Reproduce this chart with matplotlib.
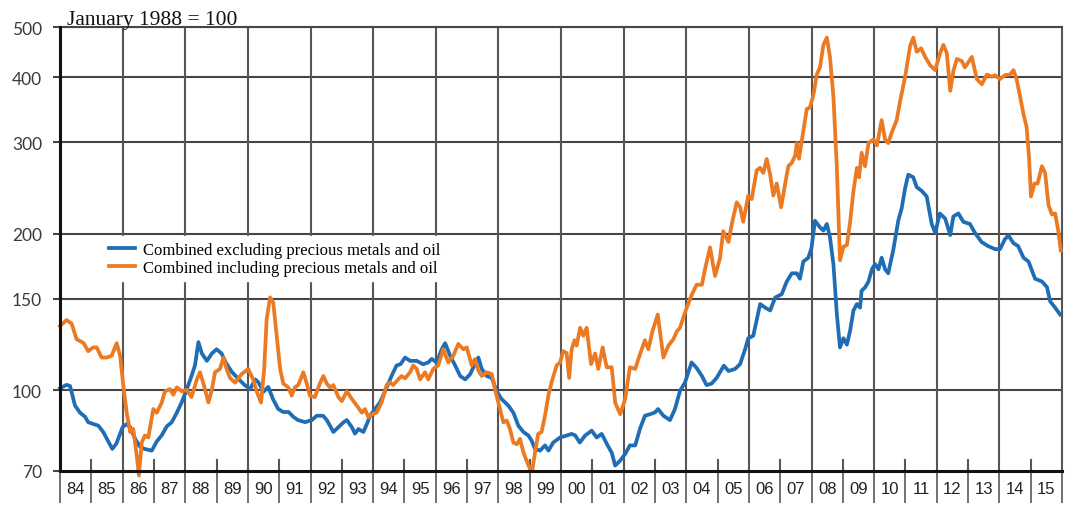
import matplotlib
matplotlib.use("Agg")
import matplotlib.pyplot as plt
import matplotlib.transforms as mtransforms

# ---------------- data ----------------
years_excl = [1984.00, 1984.21, 1984.32, 1984.48, 1984.64, 1984.80, 1984.90, 1985.06, 1985.22, 1985.38,
              1985.54, 1985.67, 1985.80, 1986.00, 1986.13, 1986.24, 1986.40, 1986.55, 1986.70, 1986.93,
              1987.09, 1987.25, 1987.41, 1987.57, 1987.73, 1987.89, 1988.05, 1988.20, 1988.31, 1988.42,
              1988.53, 1988.69, 1988.85, 1989.00, 1989.16, 1989.30, 1989.48, 1989.70, 1989.90, 1990.07,
              1990.23, 1990.33, 1990.50, 1990.65, 1990.80, 1990.97, 1991.13, 1991.30, 1991.45, 1991.60,
              1991.83, 1992.04, 1992.20, 1992.40, 1992.52, 1992.62, 1992.73, 1992.89, 1993.05, 1993.16,
              1993.32, 1993.42, 1993.53, 1993.69, 1993.80, 1993.90, 1994.06, 1994.22, 1994.38, 1994.60,
              1994.75, 1994.88, 1995.02, 1995.18, 1995.39, 1995.60, 1995.76, 1995.87, 1996.03, 1996.19,
              1996.30, 1996.46, 1996.62, 1996.78, 1996.94, 1997.10, 1997.25, 1997.36, 1997.47, 1997.63,
              1997.79, 1997.95, 1998.10, 1998.32, 1998.48, 1998.64, 1998.80, 1998.96, 1999.06, 1999.17,
              1999.33, 1999.49, 1999.60, 1999.75, 1999.97, 2000.18, 2000.34, 2000.45, 2000.60, 2000.77,
              2000.98, 2001.14, 2001.30, 2001.46, 2001.62, 2001.73, 2001.89, 2002.05, 2002.20, 2002.37,
              2002.52, 2002.68, 2002.84, 2003.00, 2003.10, 2003.27, 2003.48, 2003.64, 2003.80, 2003.96,
              2004.17, 2004.33, 2004.50, 2004.65, 2004.81, 2004.97, 2005.20, 2005.35, 2005.56, 2005.72,
              2005.88, 2005.98, 2006.14, 2006.36, 2006.52, 2006.68, 2006.84, 2007.05, 2007.21, 2007.37,
              2007.53, 2007.63, 2007.74, 2007.90, 2008.00, 2008.11, 2008.27, 2008.38, 2008.49, 2008.59,
              2008.70, 2008.81, 2008.91, 2009.02, 2009.13, 2009.23, 2009.34, 2009.45, 2009.55, 2009.60,
              2009.71, 2009.82, 2009.93, 2010.03, 2010.14, 2010.24, 2010.35, 2010.45, 2010.61, 2010.77,
              2010.88, 2010.99, 2011.09, 2011.25, 2011.36, 2011.52, 2011.68, 2011.84, 2011.95, 2012.10,
              2012.27, 2012.43, 2012.53, 2012.69, 2012.85, 2013.06, 2013.22, 2013.43, 2013.64, 2013.86,
              2014.02, 2014.18, 2014.29, 2014.45, 2014.60, 2014.77, 2014.93, 2015.14, 2015.36, 2015.52,
              2015.62, 2015.78, 2015.94]
values_excl = [101, 102.5, 102, 93.5, 90.6, 89, 86.9, 86.2, 85.6, 83.2,
               79.8, 77.2, 79, 85, 86.2, 85, 80.7, 78, 77.2, 76.6,
               79.8, 82, 85.3, 86.9, 90.6, 95, 100.6, 106.6, 111.7, 123.9,
               117.8, 114, 117.8, 120, 117.8, 113, 108.7, 105.2, 102.4, 100.6,
               105, 103.8, 99.4, 101.6, 96.3, 92.1, 90.9, 90.9, 89, 87.7,
               86.9, 87.7, 89.4, 89.4, 87.7, 85.6, 83.2, 85, 86.8, 87.7,
               85, 82.6, 84.3, 83.2, 86.2, 89.4, 92.1, 94.8, 99.6, 107,
               111.7, 112.4, 115.7, 114, 114, 112.3, 113.2, 115, 113.2, 120,
               123.3, 116.6, 111.7, 106.6, 105, 107.5, 112.4, 115.7, 110, 106.6,
               105.7, 99.6, 96.3, 93.5, 90.6, 85.5, 83.2, 81.9, 80.1, 77.2,
               76.6, 78.4, 76.6, 79.4, 81.2, 81.9, 82.5, 82, 79.4, 81.9,
               83.7, 81.2, 82.5, 79, 75.9, 71.7, 73.3, 75.5, 78.4, 78.4,
               84.3, 89.4, 90, 90.7, 92.1, 89.4, 87.7, 92.1, 99.8, 103.6,
               113.2, 110.5, 106.6, 102.4, 103.1, 105.7, 111.6, 109, 110, 112.4,
               120, 126, 127.4, 146.6, 144.3, 142.5, 150.9, 153.2, 162, 168,
               168, 164, 177, 180, 188, 212, 206, 203, 209, 197,
               175, 140, 121, 126, 122.5, 130, 142.5, 146.6, 144.3, 155.5,
               157.8, 162, 171, 175, 171, 180, 171, 168, 186, 212,
               224, 245, 260, 257, 246, 242, 236, 209, 201, 219,
               214, 199, 216, 219, 211, 209, 201, 193, 189.5, 187,
               187, 195.5, 198.5, 192, 189.5, 180, 177, 164, 162, 158,
               148.5, 144.3, 140]

years_incl = [1984.00, 1984.21, 1984.37, 1984.53, 1984.75, 1984.90, 1985.06, 1985.17, 1985.33, 1985.49,
              1985.65, 1985.81, 1985.92, 1986.02, 1986.13, 1986.24, 1986.34, 1986.45, 1986.52, 1986.61,
              1986.71, 1986.82, 1986.98, 1987.09, 1987.25, 1987.35, 1987.51, 1987.62, 1987.73, 1987.89,
              1988.05, 1988.20, 1988.37, 1988.47, 1988.58, 1988.74, 1988.85, 1988.95, 1989.11, 1989.22,
              1989.32, 1989.43, 1989.59, 1989.80, 1990.01, 1990.17, 1990.28, 1990.42, 1990.52, 1990.60,
              1990.71, 1990.81, 1990.92, 1991.03, 1991.13, 1991.29, 1991.40, 1991.50, 1991.61, 1991.77,
              1991.88, 1991.98, 1992.14, 1992.30, 1992.41, 1992.52, 1992.62, 1992.73, 1992.89, 1993.00,
              1993.16, 1993.32, 1993.48, 1993.64, 1993.74, 1993.85, 1993.96, 1994.11, 1994.27, 1994.43,
              1994.54, 1994.64, 1994.80, 1994.91, 1995.02, 1995.18, 1995.28, 1995.39, 1995.50, 1995.66,
              1995.76, 1995.92, 1996.08, 1996.24, 1996.40, 1996.56, 1996.72, 1996.88, 1996.99, 1997.15,
              1997.25, 1997.36, 1997.47, 1997.63, 1997.79, 1997.89, 1998.05, 1998.16, 1998.27, 1998.37,
              1998.48, 1998.59, 1998.69, 1998.80, 1998.90, 1999.01, 1999.08, 1999.17, 1999.27, 1999.38,
              1999.49, 1999.60, 1999.70, 1999.86, 1999.97, 2000.07, 2000.18, 2000.26, 2000.34, 2000.43,
              2000.50, 2000.61, 2000.71, 2000.82, 2000.96, 2001.09, 2001.19, 2001.33, 2001.46, 2001.62,
              2001.73, 2001.89, 2002.05, 2002.20, 2002.37, 2002.47, 2002.68, 2002.79, 2002.92, 2003.09,
              2003.27, 2003.43, 2003.59, 2003.70, 2003.80, 2003.96, 2004.17, 2004.33, 2004.50, 2004.60,
              2004.76, 2004.92, 2005.08, 2005.18, 2005.35, 2005.45, 2005.61, 2005.72, 2005.82, 2005.98,
              2006.09, 2006.25, 2006.36, 2006.46, 2006.57, 2006.68, 2006.78, 2006.89, 2007.03, 2007.16,
              2007.26, 2007.37, 2007.48, 2007.53, 2007.60, 2007.74, 2007.85, 2007.95, 2008.06, 2008.17,
              2008.27, 2008.38, 2008.49, 2008.59, 2008.70, 2008.81, 2008.91, 2009.02, 2009.13, 2009.23,
              2009.34, 2009.45, 2009.52, 2009.60, 2009.71, 2009.82, 2009.98, 2010.09, 2010.24, 2010.35,
              2010.45, 2010.56, 2010.72, 2010.83, 2010.99, 2011.15, 2011.25, 2011.36, 2011.50, 2011.63,
              2011.79, 2011.95, 2012.10, 2012.21, 2012.32, 2012.43, 2012.53, 2012.64, 2012.80, 2012.90,
              2013.12, 2013.28, 2013.44, 2013.60, 2013.76, 2013.86, 2014.02, 2014.18, 2014.34, 2014.45,
              2014.55, 2014.66, 2014.77, 2014.87, 2014.95, 2015.01, 2015.12, 2015.22, 2015.36, 2015.46,
              2015.57, 2015.68, 2015.78, 2015.88, 2015.96]
values_incl = [133, 136.6, 134.5, 125.5, 123.4, 119, 121, 121, 115.7, 115.7,
               116.6, 123.3, 116.6, 102.4, 90.6, 83.2, 84.3, 75, 68.6, 79.4,
               81.9, 81.2, 92.1, 90.6, 94.8, 99.6, 100.6, 98.1, 101.4, 99.6,
               100.3, 97.1, 105, 108.4, 103.1, 94.8, 100.3, 108.4, 110, 115.7,
               110, 105.7, 103.5, 107.5, 110, 105, 99.6, 94.8, 110, 137,
               151, 147.6, 127.4, 110, 103.1, 101.4, 97.7, 101.4, 102.4, 108.4,
               103.1, 97.7, 97.1, 103.1, 106.6, 103.1, 101.4, 102.4, 97.1, 95.4,
               99.6, 96.3, 93.5, 90.6, 92.1, 88.8, 90, 90.6, 94.8, 102.4,
               103.7, 102.4, 105, 106.6, 105.5, 108.4, 111.7, 110, 105, 108.4,
               105, 110, 111.7, 120, 113.2, 116.6, 122.9, 120, 121, 111.7,
               114.9, 109.2, 106.6, 108.4, 107.5, 100.6, 92.1, 86.8, 87.5, 84.3,
               79.4, 78.8, 80.7, 76, 73.3, 70.6, 70, 76, 82.5, 83.2,
               89.4, 98, 103.7, 111.7, 113.2, 119, 118, 105.7, 120, 124.9,
               122, 132, 127.4, 132, 112.4, 117.8, 110, 121, 110.8, 110.8,
               94.8, 90, 96.3, 110.8, 110, 114.9, 124.9, 120, 129.9, 140,
               115.7, 122, 125.5, 129.9, 132, 141.3, 152.5, 159.7, 159.7, 171.2,
               188.4, 166, 180, 202.5, 193, 208.3, 230, 225, 211, 237,
               233.4, 265, 268, 262, 278.7, 260, 237, 250, 225, 250,
               270, 274, 283, 299, 279, 316, 348, 350, 370, 405,
               418, 462, 477, 438, 367, 268, 178, 189, 190.3, 210,
               242, 268, 257, 286.5, 270, 299, 304, 296, 331, 304,
               299, 313, 331, 360, 401, 460, 477, 448, 455, 438,
               422, 413, 444, 462, 446, 377, 411, 434, 430, 418,
               438, 397, 388, 405, 401, 404, 397, 404, 405, 413,
               397, 368, 340, 321, 279, 236, 250, 250, 270, 262,
               227, 218, 219, 203, 186]

year_labels = ['84', '85', '86', '87', '88', '89', '90', '91', '92', '93', '94', '95', '96', '97', '98', '99',
               '00', '01', '02', '03', '04', '05', '06', '07', '08', '09', '10', '11', '12', '13', '14', '15']
first_year = 1984
y_ticks = [70, 100, 150, 200, 300, 400, 500]
label_excl = "Combined excluding precious metals and oil"
label_incl = "Combined including precious metals and oil"
title_text = "January 1988 = 100"

# ---------------- figure ----------------
BLUE = "#1f6db4"
ORANGE = "#ec7a22"
GRID = "#4a4444"

fig = plt.figure(figsize=(10.67, 5.10), dpi=100)
ax = fig.add_axes([60 / 1067, 1 - 472 / 510, 1002 / 1067, 444 / 510])

n_years = len(year_labels)
x_end = first_year + n_years
ax.set_xlim(first_year, x_end)
ax.set_yscale("log")
ax.set_ylim(70, 500)

# horizontal grid
for v in y_ticks[1:]:
    ax.axhline(v, color=GRID, lw=1.5, zorder=1)
# vertical grid every two years (even years)
for yr in range(first_year + 2, x_end, 2):
    ax.axvline(yr, color="#5a5454", lw=1.5, zorder=1)
# short ticks at odd year boundaries above the axis
blend = mtransforms.blended_transform_factory(ax.transData, ax.transAxes)
for yr in range(first_year + 1, x_end, 2):
    ax.plot([yr, yr], [0, 0.024], color="#5a5454", lw=1.5, transform=blend, zorder=1)

ax.plot(years_excl, values_excl, color=BLUE, lw=2.7, zorder=3, clip_on=False,
        solid_joinstyle="round", label=label_excl)
ax.plot(years_incl, values_incl, color=ORANGE, lw=2.7, zorder=4, clip_on=False,
        solid_joinstyle="round", label=label_incl)

# y axis
ax.set_yticks(y_ticks)
ax.set_yticklabels([str(v) for v in y_ticks], fontsize=12.5, color="#3a3a3a",
                   family=["Lato", "DejaVu Sans"])
ax.yaxis.set_minor_locator(matplotlib.ticker.NullLocator())
ax.tick_params(axis="y", length=5, width=1.5, color=GRID, pad=8)

# x axis: separators at every year, labels centred
ax.set_xticks(range(first_year, x_end + 1))
ax.set_xticklabels([])
ax.set_xticks([first_year + i + 0.5 for i in range(n_years)], minor=True)
ax.set_xticklabels(year_labels, minor=True, fontsize=12, color="#222222",
                   family=["Liberation Sans", "DejaVu Sans"])
ax.tick_params(axis="x", which="major", length=23, width=1.3, color="#6a6464", direction="out")
ax.tick_params(axis="x", which="minor", length=0, pad=7)

for side in ["left", "bottom"]:
    ax.spines[side].set_linewidth(2.2)
    ax.spines[side].set_color("#111111")
    ax.spines[side].set_zorder(5)
ax.spines["top"].set_color(GRID)
ax.spines["top"].set_linewidth(1.5)
ax.spines["right"].set_color("#5a5454")
ax.spines["right"].set_linewidth(1.5)

leg = ax.legend(loc="upper left", bbox_to_anchor=(0.035, 0.548), frameon=True, fancybox=False,
                edgecolor="white", facecolor="white", framealpha=1.0, handlelength=1.55,
                handletextpad=0.5, borderpad=0.35, labelspacing=0.1,
                prop={"family": ["Liberation Serif", "DejaVu Serif"], "size": 12})
leg.set_zorder(6)

fig.text(67 / 1067, 1 - 25 / 510, title_text, fontsize=15.5, color="#111111",
         family=["Liberation Serif", "DejaVu Serif"], ha="left", va="baseline")

fig.savefig("out.png", dpi=100)
